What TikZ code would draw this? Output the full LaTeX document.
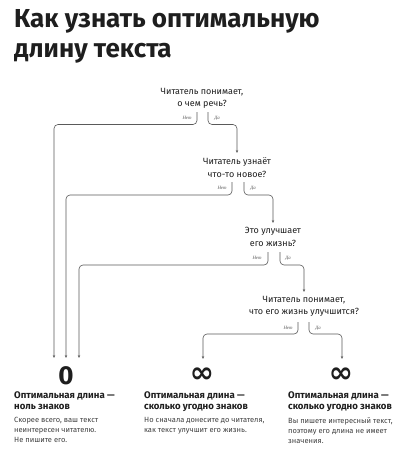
\documentclass[tikz,border=0pt]{standalone}
\usepackage{fontspec}
\setmainfont{Fira Sans}
\newfontfamily\symfont{DejaVu Sans}
\newfontfamily\lblfont{Liberation Serif}
\usetikzlibrary{arrows.meta}
\definecolor{ink}{HTML}{1E1E1E}
\definecolor{linegray}{HTML}{5A5A5A}
\begin{document}
\begin{tikzpicture}[x=1pt,y=-1pt,
  conn/.style={draw=linegray, line width=0.6pt, rounded corners=4pt},
  arr/.style={conn, -{Stealth[length=3pt,width=2.4pt]}},
  question/.style={align=center, font=\fontsize{9}{12.5}\selectfont, text=ink, inner sep=0pt},
  lbl/.style={font=\lblfont\itshape\fontsize{4.8}{5}\selectfont, text=ink!75, inner sep=0pt},
  titleline/.style={anchor=base west, font=\bfseries\fontsize{26}{30}\selectfont, text=ink, inner sep=0pt},
  result/.style={font=\bfseries\fontsize{26}{26}\selectfont, text=ink, inner sep=0pt},
  infsym/.style={font=\symfont\bfseries\fontsize{29}{29}\selectfont, text=ink, inner sep=0pt, text height=6pt, text depth=0pt},
  headline/.style={anchor=north west, align=left, font=\bfseries\fontsize{9.6}{11.8}\selectfont, text=ink, inner sep=0pt},
  bodytext/.style={anchor=north west, align=left, font=\fontsize{7.5}{10}\selectfont, text=ink!85, inner sep=0pt}
]
\useasboundingbox (0,0) rectangle (402,450);
\fill[white] (0,0) rectangle (402,450);

% title
\node[titleline] (t1) at (14,27) {Как узнать оптимальную};
\node[titleline] (t2) at (14,57) {длину текста};

% questions
\node[question] (q1) at (202,98.5) {Читатель понимает,\\о чем речь?};
\node[question] (q2) at (237,167.5) {Читатель узнаёт\\что-то новое?};
\node[question] (q3) at (273,237) {Это улучшает\\его жизнь?};
\node[question] (q4) at (304,306.5) {Читатель понимает,\\что его жизнь улучшится?};

% labels
\node[lbl] (n1) at (187,118) {Нет};
\node[lbl] (d1) at (217,118) {Да};
\node[lbl] (n2) at (222,188) {Нет};
\node[lbl] (d2) at (253,188) {Да};
\node[lbl] (n3) at (257,258) {Нет};
\node[lbl] (d3) at (288,258) {Да};
\node[lbl] (n4) at (288,328) {Нет};
\node[lbl] (d4) at (318,328) {Да};

% results
\node[result] (zero) at (66,376) {0};
\node[infsym] (inf1) at (202,379) {∞};
\node[infsym] (inf2) at (341,379) {∞};

% connector ends
\coordinate (s1n) at (197,112);
\coordinate (s1d) at (208,112);
\coordinate (s2n) at (232,182);
\coordinate (s2d) at (244,182);
\coordinate (s3n) at (268,252);
\coordinate (s3d) at (280,252);
\coordinate (s4n) at (298,322);
\coordinate (s4d) at (309,322);
\coordinate (e1) at (54,358);
\coordinate (e2) at (66,358);
\coordinate (e3) at (79,358);
\coordinate (e4) at (203,359);
\coordinate (e5) at (342,359);
\coordinate (e6) at (237,153);
\coordinate (e7) at (273,223);
\coordinate (e8) at (304,292);

% connectors
\draw[arr] (s1n) -- (197,124.5) -- (54,124.5) -- (e1);
\draw[arr] (s1d) -- (208,124.5) -- (237,124.5) -- (e6);
\draw[arr] (s2n) -- (232,195) -- (66,195) -- (e2);
\draw[arr] (s2d) -- (244,195) -- (273,195) -- (e7);
\draw[arr] (s3n) -- (268,265) -- (79,265) -- (e3);
\draw[arr] (s3d) -- (280,265) -- (304,265) -- (e8);
\draw[arr] (s4n) -- (298,334) -- (203,334) -- (e4);
\draw[arr] (s4d) -- (309,334) -- (342,334) -- (e5);

% bottom texts
\node[headline] (h1) at (14,391) {Оптимальная длина —\\ноль знаков};
\node[bodytext] (b1) at (14,417) {Скорее всего, ваш текст\\неинтересен читателю.\\Не пишите его.};
\node[headline] (h2) at (144,391) {Оптимальная длина —\\сколько угодно знаков};
\node[bodytext] (b2) at (144,417) {Но сначала донесите до читателя,\\как текст улучшит его жизнь.};
\node[headline] (h3) at (288,391) {Оптимальная длина —\\сколько угодно знаков};
\node[bodytext] (b3) at (288,417) {Вы пишете интересный текст,\\поэтому его длина не имеет\\значения.};
\end{tikzpicture}
\end{document}
